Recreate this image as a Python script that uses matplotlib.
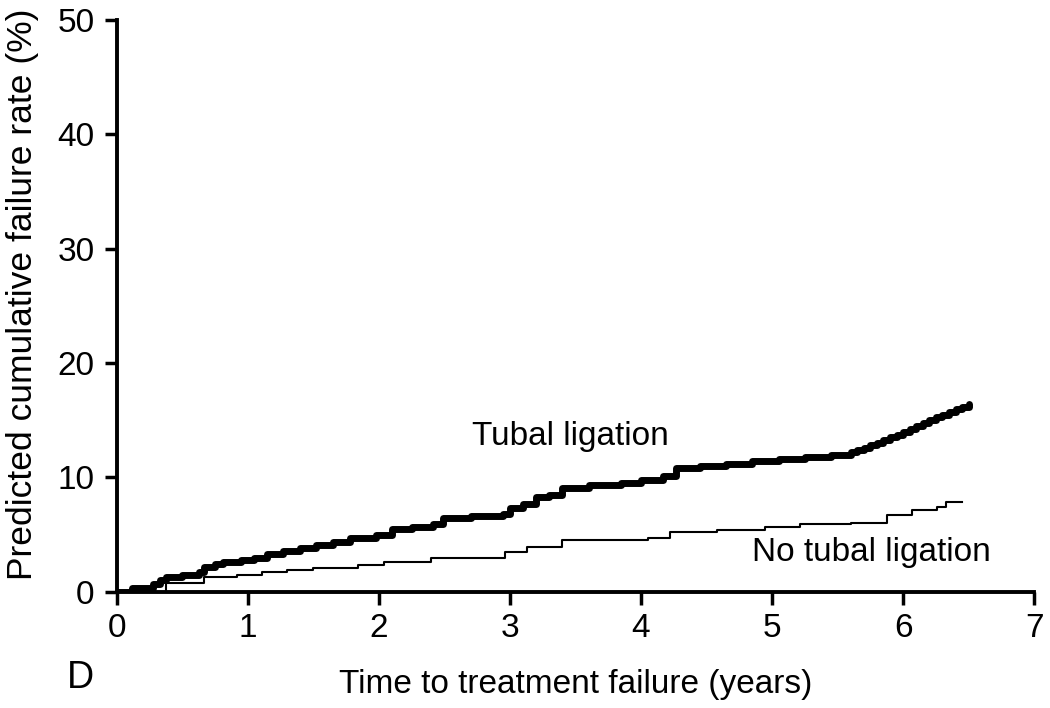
import matplotlib.pyplot as plt

plt.rcParams['font.family'] = ['Liberation Sans', 'DejaVu Sans']

# step curve: tubal ligation (years, %)
tubal_t = [0, 0.12, 0.28, 0.33, 0.38, 0.5, 0.63, 0.67, 0.75, 0.81, 0.95, 1.05, 1.15,
           1.27, 1.4, 1.52, 1.65, 1.78, 1.98, 2.1, 2.25, 2.41, 2.49, 2.7, 2.95, 3.0,
           3.1, 3.2, 3.3, 3.4, 3.6, 3.85, 4.0, 4.17, 4.27, 4.45, 4.65, 4.85, 5.05,
           5.25, 5.45, 5.6, 5.65, 5.7, 5.75, 5.8, 5.85, 5.9, 5.95, 6.0, 6.05, 6.1,
           6.15, 6.2, 6.25, 6.3, 6.35, 6.4, 6.45, 6.5]
tubal_y = [0, 0.35, 0.7, 1.0, 1.3, 1.5, 1.75, 2.2, 2.4, 2.6, 2.8, 3.0, 3.3,
           3.6, 3.8, 4.1, 4.4, 4.7, 5.0, 5.5, 5.7, 5.9, 6.5, 6.6, 6.8, 7.3,
           7.7, 8.3, 8.5, 9.1, 9.3, 9.5, 9.8, 10.1, 10.8, 11.0, 11.2, 11.4, 11.6,
           11.8, 12.0, 12.2, 12.4, 12.6, 12.8, 13.0, 13.25, 13.5, 13.75, 14.0, 14.25, 14.5,
           14.75, 15.0, 15.25, 15.5, 15.75, 16.0, 16.2, 16.4]

# step curve: no tubal ligation
no_tubal_t = [0, 0.38, 0.67, 0.92, 1.11, 1.3, 1.5, 1.84, 2.04, 2.4, 2.96, 3.13, 3.4,
              4.05, 4.22, 4.58, 4.95, 5.21, 5.6, 5.88, 6.07, 6.26, 6.33, 6.45]
no_tubal_y = [0, 0.8, 1.3, 1.5, 1.7, 1.9, 2.1, 2.35, 2.6, 3.0, 3.5, 3.95, 4.5,
              4.7, 5.2, 5.4, 5.7, 5.9, 6.05, 6.7, 7.2, 7.4, 7.9, 7.9]

fig = plt.figure(figsize=(10.5, 7.08), dpi=100)
ax = fig.add_axes([0.111, 0.164, 0.874, 0.808])

ax.plot(no_tubal_t, no_tubal_y, drawstyle='steps-post', color='black', linewidth=1.5)
ax.plot(tubal_t, tubal_y, drawstyle='steps-post', color='black', linewidth=5,
        solid_capstyle='round', solid_joinstyle='round')

ax.text(3.46, 13.6, 'Tubal ligation', fontsize=24, ha='center', va='center')
ax.text(5.76, 3.4, 'No tubal ligation', fontsize=24, ha='center', va='center')

ax.set_xlim(0, 7)
ax.set_ylim(0, 50)
ax.set_xticks(range(0, 8))
ax.set_yticks(range(0, 51, 10))
ax.tick_params(labelsize=24, width=2.5, length=9)
ax.tick_params(axis='x', pad=6)
ax.tick_params(axis='y', pad=7)

for side in ['top', 'right']:
    ax.spines[side].set_visible(False)
for side in ['left', 'bottom']:
    ax.spines[side].set_linewidth(2.8)

ax.set_xlabel('Time to treatment failure (years)', fontsize=24, labelpad=18)
ax.set_ylabel('Predicted cumulative failure rate (%)', fontsize=25.5)
ax.yaxis.set_label_coords(-0.084, 0.521)
fig.text(0.077, 0.042, 'D', fontsize=27, ha='center', va='center')

plt.savefig('out.png', dpi=100)
